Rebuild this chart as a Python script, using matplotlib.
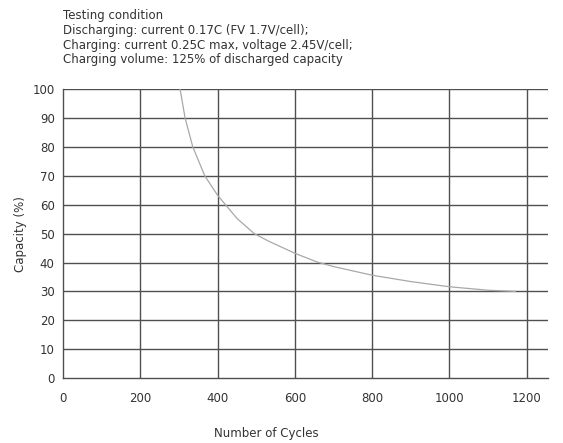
import matplotlib
matplotlib.use("Agg")
import matplotlib.pyplot as plt

cycles = [303, 316, 336, 367, 400, 450, 495, 532, 600, 657, 700, 800,
          900, 1000, 1100, 1170]
capacity = [100, 90, 80, 70, 63.3, 55.3, 50, 47.4, 43.2, 40.2, 38.6, 35.6,
            33.4, 31.6, 30.4, 30]
x_ticks = [0, 200, 400, 600, 800, 1000, 1200]
y_ticks = [0, 10, 20, 30, 40, 50, 60, 70, 80, 90, 100]
conditions = [
    "Testing condition",
    "Discharging: current 0.17C (FV 1.7V/cell);",
    "Charging: current 0.25C max, voltage 2.45V/cell;",
    "Charging volume: 125% of discharged capacity",
]

plt.rcParams['font.family'] = ['DejaVu Sans']
W, H = 563, 443
fig = plt.figure(figsize=(W / 100, H / 100), dpi=100)
ax = fig.add_axes([63 / W, (H - 378) / H, 485 / W, 288.7 / H])

grid_c = '#505050'
for yv in y_ticks[1:]:
    ax.axhline(yv, color=grid_c, lw=1.0, zorder=1)
for xv in x_ticks[1:]:
    ax.axvline(xv, color=grid_c, lw=1.0, zorder=1)

ax.plot(cycles, capacity, color='#a8a8a8', lw=0.9, zorder=2, solid_joinstyle='round')

ax.set_xlim(0, 1255)
ax.set_ylim(0, 100)
ax.set_xticks(x_ticks)
ax.set_yticks(y_ticks)
ax.tick_params(length=0, labelsize=8.5, colors='#333333', pad=6)
ax.tick_params(axis='x', pad=10)
for s in ['top', 'right']:
    ax.spines[s].set_visible(False)
for s in ['left', 'bottom']:
    ax.spines[s].set_color(grid_c)
    ax.spines[s].set_linewidth(1.0)

ax.set_ylabel("Capacity (%)", fontsize=8.5, color='#333333', labelpad=4)
fig.text(266 / W, 1 - 434 / H, "Number of Cycles", fontsize=8.5, color='#333333',
         ha='center', va='center')

for i, line in enumerate(conditions):
    fig.text(63 / W, 1 - (16 + i * 14.5) / H, line, fontsize=8.5, color='#333333',
             ha='left', va='center')

fig.savefig("out.png", dpi=100)
